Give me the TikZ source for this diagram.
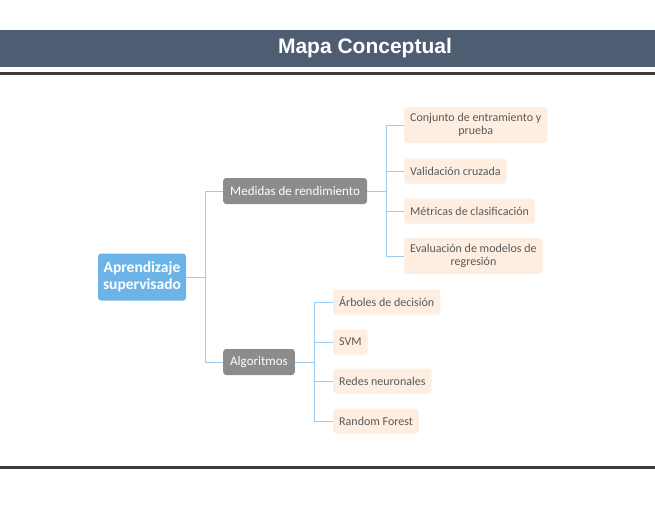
\documentclass[tikz,border=0pt]{standalone}
\usepackage{fontspec}
\setmainfont{Carlito}
\newfontfamily\titlefont{Liberation Sans}
\usetikzlibrary{positioning}

\definecolor{barcol}{HTML}{4F5D73}
\definecolor{rulecol}{HTML}{3C3C3C}
\definecolor{rootcol}{HTML}{6CB4E8}
\definecolor{catcol}{HTML}{8C8C8C}
\definecolor{leafcol}{HTML}{FEEEE1}
\definecolor{linkcol}{HTML}{9DCBEF}
\definecolor{leaftext}{HTML}{595959}

\tikzset{
  root/.style={fill=rootcol, rounded corners=3pt, text=white, font=\fontsize{15.5}{17}\selectfont\bfseries,
    align=center, minimum width=88pt, minimum height=47pt, inner xsep=5pt},
  cat/.style={fill=catcol, rounded corners=3pt, text=white, font=\fontsize{13}{15}\selectfont,
    minimum height=26pt, inner xsep=7pt},
  leaf/.style={fill=leafcol, rounded corners=3pt, text=leaftext, font=\fontsize{12}{13}\selectfont,
    minimum height=25pt, inner xsep=6pt, align=center}
}

\begin{document}
\begin{tikzpicture}[x=1pt, y=-1pt]
    \useasboundingbox (0,0) rectangle (655,512);
    % header
    \fill [barcol] (0,30) rectangle (655,67);
    \node [text=white, font=\titlefont\fontsize{21}{24}\selectfont\bfseries] (title) at (365,48.5) {Mapa Conceptual};
    \fill [rulecol] (0,72) rectangle (655,74.5);
    \fill [rulecol] (0,466) rectangle (655,468.5);

    % nodes
    \node [root] (root) at (142,277) {Aprendizaje\\supervisado};
    \node [cat, anchor=west] (med) at (223,191) {Medidas de rendimiento};
    \node [cat, anchor=west] (alg) at (223,362) {Algoritmos};

    \node [leaf, anchor=west, minimum height=36pt] (conj) at (404,125) {Conjunto de entramiento y\\prueba};
    \node [leaf, anchor=west] (valid) at (404,171) {Validación cruzada};
    \node [leaf, anchor=west] (metr) at (404,211) {Métricas de clasificación};
    \node [leaf, anchor=west, minimum height=36pt] (eval) at (404,256) {Evaluación de modelos de\\regresión};

    \node [leaf, anchor=west] (arb) at (333,302) {Árboles de decisión};
    \node [leaf, anchor=west] (svm) at (333,342) {SVM};
    \node [leaf, anchor=west] (redes) at (333,381) {Redes neuronales};
    \node [leaf, anchor=west] (rf) at (333,421) {Random Forest};

    % connectors
    \foreach \n in {med, alg}
        \draw [draw=linkcol, line width=0.9pt] (root.east) -- ++(19,0) |- (\n.west);
    \foreach \n in {conj, valid, metr, eval}
        \draw [draw=linkcol, line width=0.9pt] (med.east) -- ++(19,0) |- (\n.west);
    \foreach \n in {arb, svm, redes, rf}
        \draw [draw=linkcol, line width=0.9pt] (alg.east) -- ++(19,0) |- (\n.west);

\end{tikzpicture}
\end{document}
